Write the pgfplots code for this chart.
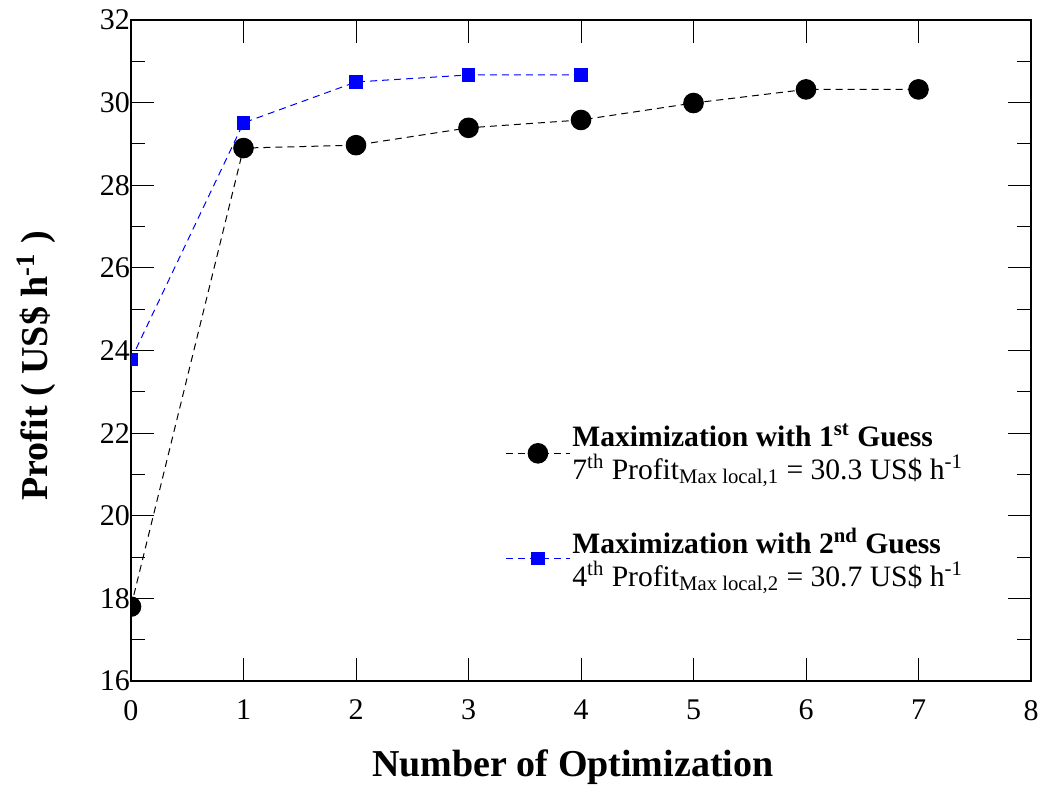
\documentclass[border=0pt]{standalone}
\usepackage{pgfplots}
\pgfplotsset{compat=1.18}
\usepackage{fontspec}
\setmainfont{Liberation Serif}
\definecolor{myblue}{RGB}{0,0,255}
\begin{document}
\begin{tikzpicture}
\begin{axis}[
  scale only axis, width=450pt, height=330.5pt,
  xmin=0, xmax=8, ymin=16, ymax=32,
  xtick={0,1,...,8}, ytick={16,18,...,32}, minor ytick={17,19,...,31},
  tick align=inside, major tick length=11.5pt, minor tick length=7pt,
  tick style={black, line width=0.5pt},
  axis line style={line width=1.3pt},
  /pgf/number format/assume math mode=true,
  ticklabel style={font=\fontsize{15}{18}\selectfont},
  xticklabel style={yshift=-6pt},
  yticklabel style={xshift=3pt},
  xlabel={Number of Optimization},
  ylabel={Profit ( US\$ h\textsuperscript{-1} )},
  label style={font=\fontsize{19}{22}\selectfont\bfseries},
  xlabel style={at={(axis description cs:0.491,-0.1452)}, anchor=base},
  ylabel style={at={(axis description cs:-0.0933,0.477)}, anchor=base},
  clip marker paths=true,
  legend cell align=left,
  legend image code/.code={\draw[mark repeat=2,mark phase=2,#1] plot coordinates {(0pt,0pt) (16pt,0pt) (32pt,0pt)};},
  legend style={draw=none, fill=none, inner sep=0pt, at={(0.4156,0.389)}, anchor=north west,
    row sep=23pt, column sep=1pt,
    nodes={align=left, inner sep=0pt, font=\fontsize{14.8}{16.5}\selectfont}},
]
\addplot[black, line width=0.5pt, dash pattern=on 3.5pt off 2.5pt, mark=*, mark size=4.9pt, mark options={solid, fill=black}]
  coordinates {(0,17.8) (1,28.9) (2,28.97) (3,29.39) (4,29.58) (5,29.99) (6,30.32) (7,30.32)};
\addlegendentry{\textbf{Maximization with 1\textsuperscript{st} Guess}\\7\textsuperscript{th} Profit\textsubscript{Max local,1} = 30.3 US\$ h\textsuperscript{-1}}
\addplot[myblue, line width=0.5pt, dash pattern=on 3.5pt off 2.5pt, mark=square*, mark size=3.1pt, mark options={solid, fill=myblue}]
  coordinates {(0,23.78) (1,29.51) (2,30.5) (3,30.67) (4,30.67)};
\addlegendentry{\textbf{Maximization with 2\textsuperscript{nd} Guess}\\4\textsuperscript{th} Profit\textsubscript{Max local,2} = 30.7 US\$ h\textsuperscript{-1}}
\end{axis}
\pgfresetboundingbox
\path ([shift={(-65.5pt,-53pt)}]current axis.south west) rectangle ([shift={(4pt,10pt)}]current axis.north east);
\end{tikzpicture}
\end{document}
